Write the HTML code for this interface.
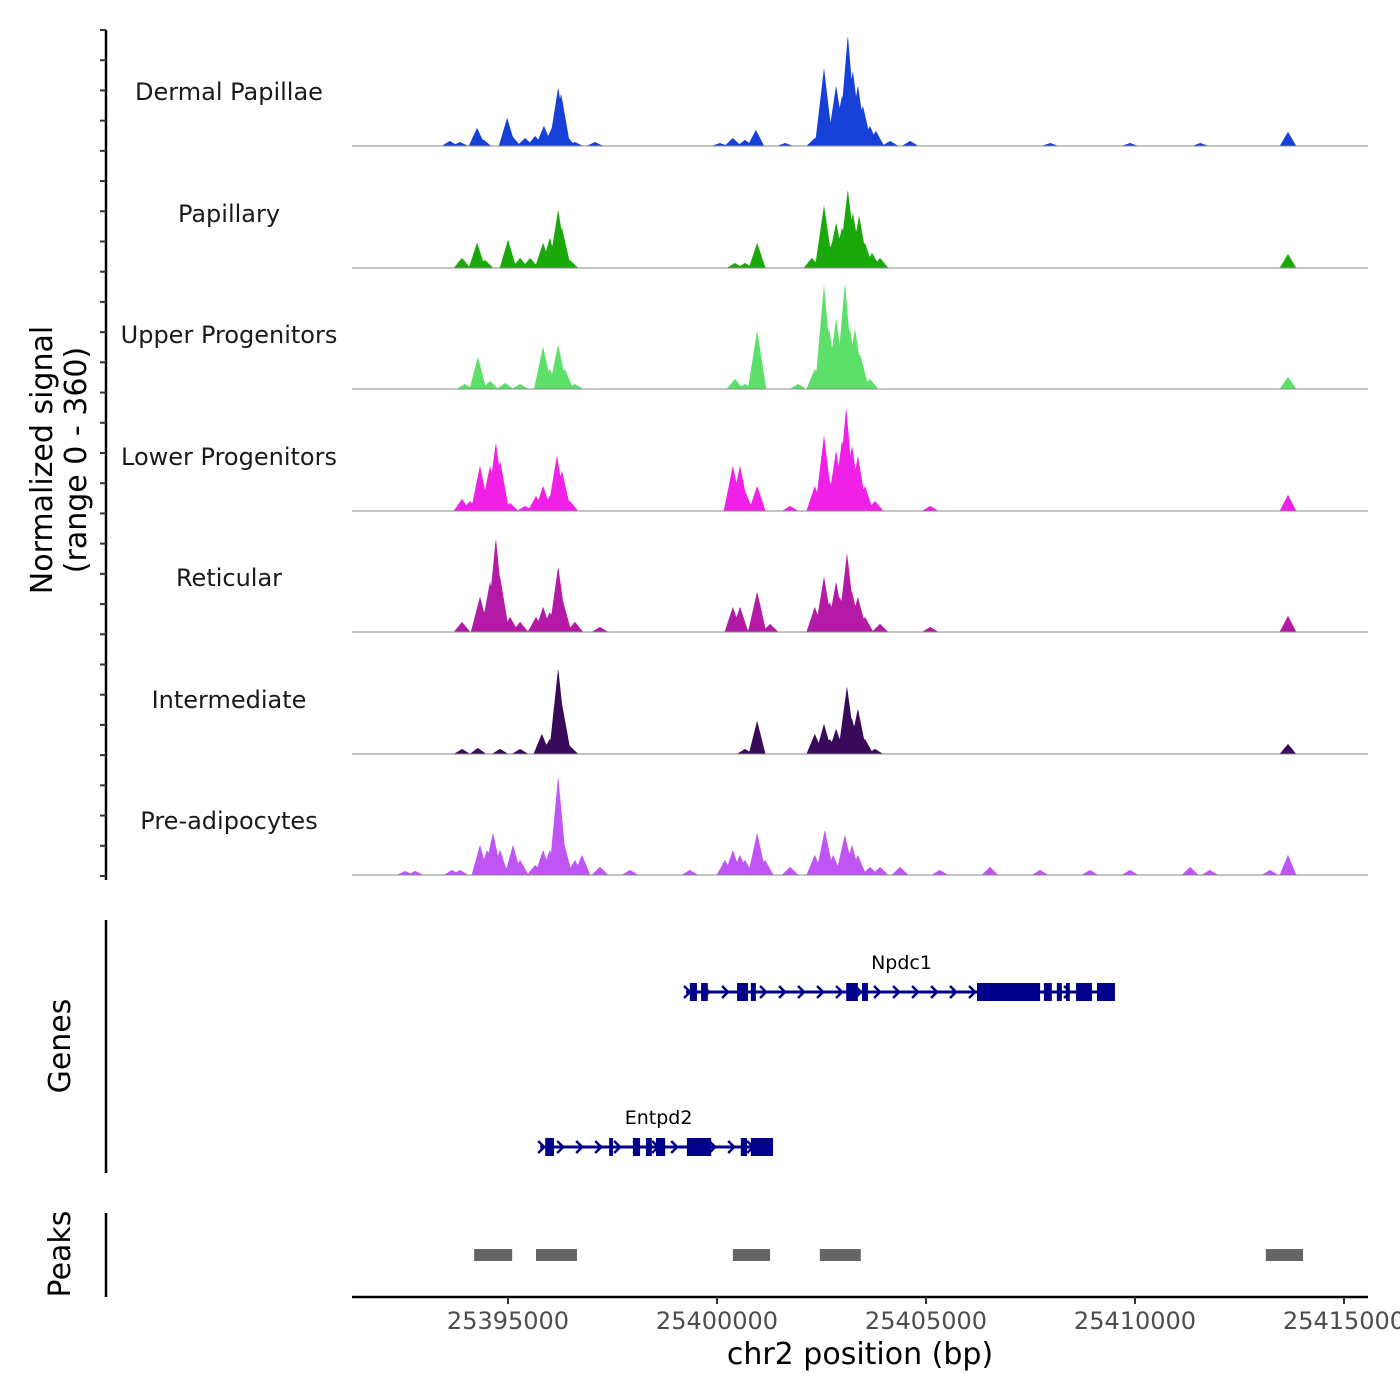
<!DOCTYPE html>
<html><head><meta charset="utf-8"><style>
body{margin:0;background:#fff;}
svg{display:block;font-family:"DejaVu Sans","Liberation Sans",sans-serif;}
</style></head><body>
<svg id="chart" width="1400" height="1400" viewBox="0 0 1400 1400"></svg>
<script>
// ---- data ----
const trackNames = ["Dermal Papillae","Papillary","Upper Progenitors","Lower Progenitors","Reticular","Intermediate","Pre-adipocytes"];
const trackColors = ["#1740d9","#1aa80a","#5ce06a","#f020e6","#b31aa6","#3a0a5a","#c055f5"];
const dpPos = [25393.61,25393.85,25394.26,25394.40,25394.98,25395.10,25395.41,25395.65,25395.86,25396.05,25396.20,25396.27,25396.41,25396.60,25397.08,25400.07,25400.38,25400.67,25400.93,25401.63,25402.34,25402.56,25402.70,25402.85,25402.99,25403.13,25403.25,25403.37,25403.49,25403.66,25403.80,25404.14,25404.62,25407.97,25409.88,25411.56,25413.66];
const dpVal = [15,12,54,20,84,30,24,30,60,54,174,156,30,12,12,9,24,18,48,9,24,231,60,180,150,330,225,180,120,60,45,15,15,9,9,9,42];
const paPos = [25393.90,25394.26,25394.45,25395.00,25395.29,25395.53,25395.84,25396.00,25396.20,25396.29,25396.48,25400.43,25400.67,25400.96,25402.27,25402.56,25402.75,25402.85,25402.99,25403.13,25403.25,25403.40,25403.54,25403.71,25403.90,25413.66];
const paVal = [30,75,24,84,30,30,75,90,174,120,24,15,15,75,30,186,75,135,120,234,165,156,75,45,30,42];
const upPos = [25393.97,25394.28,25394.57,25394.93,25395.29,25395.84,25396.00,25396.20,25396.36,25396.60,25400.43,25400.67,25400.96,25401.94,25402.34,25402.56,25402.68,25402.85,25403.06,25403.18,25403.30,25403.42,25403.66,25413.66];
const upVal = [15,96,24,18,15,126,60,132,60,15,30,15,174,15,60,309,180,210,315,180,180,105,30,36];
const lpPos = [25393.90,25394.09,25394.33,25394.57,25394.71,25394.81,25395.05,25395.41,25395.67,25395.84,25396.00,25396.17,25396.29,25396.48,25400.38,25400.55,25400.67,25400.96,25401.75,25402.34,25402.56,25402.70,25402.85,25402.99,25403.09,25403.23,25403.37,25403.54,25403.78,25405.10,25413.66];
const lpVal = [36,30,135,135,204,150,24,15,45,75,45,165,120,30,135,135,60,75,15,75,225,90,180,210,309,195,165,75,30,15,48];
const rePos = [25393.90,25394.33,25394.57,25394.71,25394.81,25395.05,25395.29,25395.67,25395.84,25396.00,25396.20,25396.32,25396.60,25397.20,25400.38,25400.55,25400.96,25401.27,25402.34,25402.56,25402.70,25402.85,25402.94,25403.11,25403.23,25403.37,25403.54,25403.90,25405.10,25413.66];
const reVal = [30,105,150,279,165,45,30,45,75,60,195,90,30,15,75,75,120,24,75,165,90,150,105,234,120,105,45,24,15,48];
const inPos = [25393.90,25394.28,25394.81,25395.29,25395.81,25396.00,25396.20,25396.29,25396.48,25400.67,25400.96,25402.34,25402.56,25402.70,25402.85,25402.99,25403.11,25403.23,25403.37,25403.54,25403.78,25413.66];
const inVal = [15,18,15,15,60,45,255,150,24,15,99,60,90,45,75,60,201,105,135,45,15,30];
const prPos = [25392.54,25392.78,25393.66,25393.85,25394.33,25394.50,25394.64,25394.81,25395.12,25395.29,25395.65,25395.84,25396.00,25396.20,25396.32,25396.60,25396.77,25397.20,25397.92,25399.35,25400.19,25400.38,25400.55,25400.67,25400.96,25401.15,25401.75,25402.34,25402.58,25402.78,25403.06,25403.23,25403.37,25403.66,25403.90,25404.38,25405.33,25406.53,25407.73,25408.92,25409.88,25411.32,25411.79,25413.23,25413.66];
const prVal = [12,12,15,15,90,75,126,75,90,45,30,75,75,294,105,45,60,24,15,15,45,75,60,45,126,45,24,60,135,60,120,90,60,24,24,24,15,24,15,15,15,24,15,15,60];
const trackPos = [dpPos,paPos,upPos,lpPos,rePos,inPos,prPos];
const trackVal = [dpVal,paVal,upVal,lpVal,reVal,inVal,prVal];
const xTicks = [25395000,25400000,25405000,25410000,25415000];
const geneNames = ["Npdc1","Entpd2"];
const geneStart = [25399.26,25395.77];
const geneEnd = [25409.52,25401.34];
const npdc1ExonStart = [25399.35,25399.62,25400.48,25400.81,25403.09,25403.47,25406.22,25407.82,25408.13,25408.35,25408.59,25409.09];
const npdc1ExonEnd = [25399.52,25399.78,25400.74,25400.93,25403.37,25403.61,25407.73,25408.01,25408.25,25408.44,25408.97,25409.52];
const entpd2ExonStart = [25395.89,25397.42,25397.99,25398.30,25398.54,25399.28,25400.57,25400.81];
const entpd2ExonEnd = [25396.10,25397.51,25398.16,25398.44,25398.76,25399.86,25400.72,25401.34];
const peakStart = [25394.19,25395.67,25400.38,25402.46,25413.13];
const peakEnd = [25395.10,25396.65,25401.27,25403.44,25414.02];

// ---- scales ----
const svg = document.getElementById('chart');
const NS = 'http://www.w3.org/2000/svg';
const xScale = kb => 508 + (kb - 25395) * 41.8;
const X0 = 352, X1 = 1368;
const baselines = [146,268,389,511,632,754,875];
const yUnit = 121.5/360;
function mk(tag, attrs, parent){const e=document.createElementNS(NS,tag);for(const k in attrs)e.setAttribute(k,attrs[k]);(parent||svg).appendChild(e);return e;}

// tracks
trackNames.forEach((name,i)=>{
  const g = mk('g',{});
  
  
  const pos = trackPos[i], val = trackVal[i], base = baselines[i];
  let pts = [];
  for(let x=X0;x<=X1;x+=0.5){
    const kb = 25395 + (x-508)/41.8;
    let v = 0;
    for(let j=0;j<pos.length;j++){
      const d = Math.abs(kb-pos[j]);
      const w = val[j] > 100 ? 0.22 : 0.2;
      if(d<w){ const t=1-d/w; v = Math.max(v, val[j]*t); }
    }
    pts.push(x.toFixed(1)+','+(base - v*yUnit).toFixed(1));
  }
  const area = mk('polygon',{points: X0+','+base+' '+pts.join(' ')+' '+X1+','+base, fill: trackColors[i]}, g);
  
  
  const bl = mk('line',{x1:X0,x2:X1,y1:base,y2:base,stroke:'#888','stroke-width':1}, g);
  
  
  const t = mk('text',{x:229,y:base-46,'text-anchor':'middle','font-size':24,fill:'#1a1a1a'}, g);
  t.textContent = name;
  
  
});

// left axis for tracks
const la = mk('line',{x1:106,x2:106,y1:30,y2:880,stroke:'#000','stroke-width':2.5});


for(let k=0;k<=28;k++){
  const y = 30 + k*(876-30)/28;
  const tk = mk('line',{x1:100,x2:106,y1:y,y2:y,stroke:'#333','stroke-width':2});
  
  
}
const yt = mk('text',{transform:'translate(52,460) rotate(-90)','text-anchor':'middle','font-size':30,fill:'#000'});
yt.textContent='Normalized signal';


const yt2 = mk('text',{transform:'translate(86,460) rotate(-90)','text-anchor':'middle','font-size':30,fill:'#000'});
yt2.textContent='(range 0 - 360)';



// genes
const ga = mk('line',{x1:106,x2:106,y1:920,y2:1173,stroke:'#000','stroke-width':2.5});


const gt = mk('text',{transform:'translate(70,1046) rotate(-90)','text-anchor':'middle','font-size':30,fill:'#000'});
gt.textContent='Genes';


const geneY = [992,1147];
const exS = [npdc1ExonStart, entpd2ExonStart], exE = [npdc1ExonEnd, entpd2ExonEnd];
geneNames.forEach((gn,i)=>{
  const g = mk('g',{});
  
  
  const y = geneY[i], xs = xScale(geneStart[i]), xe = xScale(geneEnd[i]);
  mk('line',{x1:xs,x2:xe,y1:y,y2:y,stroke:'#00008b','stroke-width':3},g);
  for(let x=xs+2;x<xe-4;x+=19){
    mk('polyline',{points:(x-4)+','+(y-6)+' '+(x+2)+','+y+' '+(x-4)+','+(y+6),fill:'none',stroke:'#00008b','stroke-width':2.5},g);
  }
  for(let j=0;j<exS[i].length;j++){
    const r = mk('rect',{x:xScale(exS[i][j]),y:y-9,width:Math.max(3,xScale(exE[i][j])-xScale(exS[i][j])),height:18,fill:'#00008b'},g);
    
    
  }
  const lbl = mk('text',{x:(xs+xe)/2+ (i===0?1:2),y:y-23,'text-anchor':'middle','font-size':19,fill:'#000'},g);
  lbl.textContent = gn;
  
  
});

// peaks
const pa = mk('line',{x1:106,x2:106,y1:1213,y2:1297,stroke:'#000','stroke-width':2.5});


const pt = mk('text',{transform:'translate(70,1254) rotate(-90)','text-anchor':'middle','font-size':30,fill:'#000'});
pt.textContent='Peaks';


peakStart.forEach((s,i)=>{
  const r = mk('rect',{x:xScale(s),y:1249,width:xScale(peakEnd[i])-xScale(s),height:12,fill:'#666'});
  
  
});

// x axis
const xa = mk('line',{x1:X0,x2:X1,y1:1297,y2:1297,stroke:'#000','stroke-width':2.5});


xTicks.forEach(v=>{
  const x = xScale(v/1000);
  const tk = mk('line',{x1:x,x2:x,y1:1297,y2:1304,stroke:'#333','stroke-width':2});
  
  
  const tl = mk('text',{x:x,y:1329,'text-anchor':'middle','font-size':24,fill:'#4d4d4d'});
  tl.textContent = String(v);
  
  
});
const xt = mk('text',{x:860,y:1364,'text-anchor':'middle','font-size':30,fill:'#000'});
xt.textContent='chr2 position (bp)';


</script>
</body></html>
